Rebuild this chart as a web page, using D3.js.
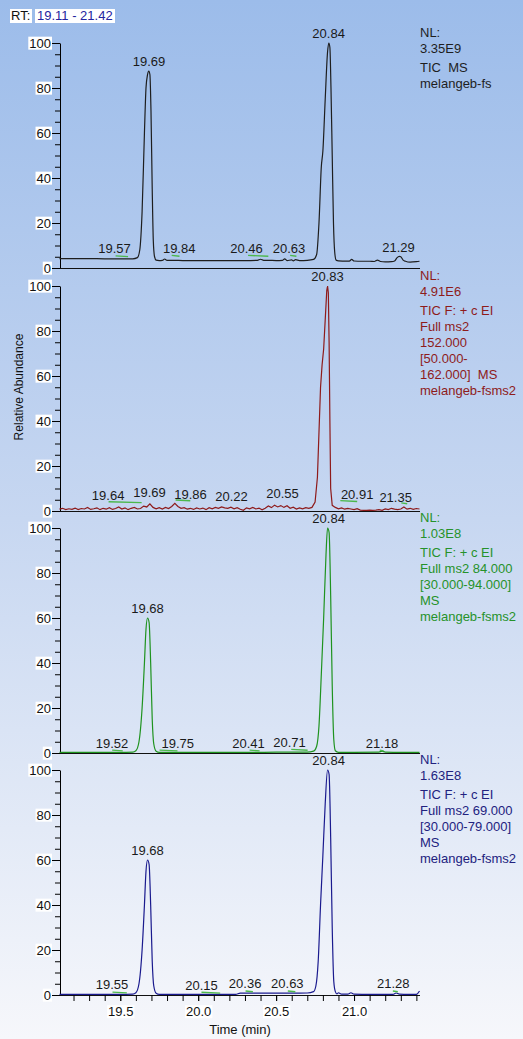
<!DOCTYPE html>
<html>
<head>
<meta charset="utf-8">
<script src="https://cdn.jsdelivr.net/npm/d3@7"></script>
<style>
  body { margin: 0; padding: 0; overflow: hidden; }
  svg { display: block; font-family: "Liberation Sans", Arial, sans-serif; }
</style>
</head>
<body>
<div id="chart"></div>
<script>
/********************************************************
 ********************* Data *****************************
 ********************************************************/
var rtRange = [19.11, 21.42];
var yTickLabels = [0, 20, 40, 60, 80, 100];
var xTickLabels = [19.5, 20.0, 20.5, 21.0];
var xMinorTicks = [19.2, 19.3, 19.4, 19.5, 19.6, 19.7, 19.8, 19.9, 20.0, 20.1, 20.2, 20.3,
                   20.4, 20.5, 20.6, 20.7, 20.8, 20.9, 21.0, 21.1, 21.2, 21.3, 21.4];

// panel 1 - TIC MS
var tic1Time = [19.11, 19.20, 19.30, 19.40, 19.50, 19.58, 19.61, 19.625, 19.64, 19.655, 19.665, 19.675,
  19.683, 19.69, 19.697, 19.705, 19.712, 19.72, 19.73, 19.75, 19.77, 19.785, 19.80, 19.85, 19.90,
  20.00, 20.10, 20.20, 20.30, 20.38, 20.40, 20.42, 20.45, 20.50, 20.54, 20.555, 20.57, 20.60, 20.61,
  20.625, 20.65, 20.70, 20.74, 20.76, 20.775, 20.79, 20.80, 20.815, 20.83, 20.838, 20.845, 20.852,
  20.86, 20.868, 20.876, 20.885, 20.90, 20.95, 20.97, 20.985, 21.00, 21.05, 21.10, 21.13, 21.15,
  21.17, 21.20, 21.24, 21.26, 21.275, 21.29, 21.30, 21.315, 21.33, 21.36, 21.40, 21.42];
var tic1Abund = [4.2, 4.2, 4.2, 4.1, 4.1, 4.1, 4.6, 8, 25, 60, 80, 86,
  87.5, 86, 70, 35, 12, 5, 3.5, 3.3, 3.4, 4.0, 3.4, 3.4, 3.3,
  3.3, 3.3, 3.3, 3.3, 3.4, 3.9, 3.4, 3.4, 3.3, 3.4, 4.1, 3.3, 3.6, 3.2,
  3.7, 3.3, 3.4, 3.8, 6, 20, 45, 52, 75, 96, 100, 98, 80,
  50, 20, 7, 3.5, 3.2, 3.1, 3.1, 3.8, 3.1, 3.0, 3.0, 2.9, 3.5,
  2.9, 2.7, 2.8, 3.1, 4.5, 5.2, 5.0, 3.5, 3.0, 2.6, 2.8, 3.0];
var tic1LabelText = ["19.69", "20.84", "19.57", "19.84", "20.46", "20.63", "21.29"];
var tic1LabelTime = [19.684, 20.837, 19.463, 19.878, 20.31, 20.583, 21.285];
var tic1LabelLevel = [87.5, 100, 4.5, 4.5, 4.5, 4.5, 5.0];
var tic1MarkStart = [19.47, 19.83, 20.32, 20.59];
var tic1MarkEnd = [19.55, 19.88, 20.45, 20.63];
var tic1MarkLevel = [5.4, 5.6, 5.6, 5.6];
var tic1Header = ["NL:", "3.35E9", "TIC  MS", "melangeb-fs"];

// panel 2 - TIC F: + c EI Full ms2 152.000
var tic2Time = [19.11, 19.13, 19.15, 19.17, 19.19, 19.21, 19.23, 19.25, 19.27, 19.29, 19.31, 19.33,
  19.35, 19.37, 19.39, 19.41, 19.43, 19.45, 19.47, 19.49, 19.51, 19.53, 19.55, 19.57, 19.59, 19.61,
  19.63, 19.65, 19.67, 19.69, 19.71, 19.73, 19.75, 19.77, 19.79, 19.81, 19.83, 19.85, 19.87, 19.89,
  19.91, 19.93, 19.95, 19.97, 19.99, 20.01, 20.03, 20.05, 20.07, 20.09, 20.11, 20.13, 20.15, 20.17,
  20.19, 20.21, 20.23, 20.25, 20.27, 20.29, 20.31, 20.33, 20.35, 20.37, 20.39, 20.41, 20.43, 20.45,
  20.47, 20.49, 20.51, 20.53, 20.55, 20.57, 20.59, 20.61, 20.63, 20.65, 20.67, 20.69, 20.71, 20.73,
  20.75, 20.765, 20.775, 20.785, 20.795, 20.805, 20.815, 20.825, 20.83, 20.835, 20.84, 20.845, 20.85,
  20.86, 20.88, 20.90, 20.92, 20.94, 20.96, 20.98, 21.00, 21.02, 21.04, 21.06, 21.08, 21.10, 21.12,
  21.14, 21.16, 21.18, 21.20, 21.22, 21.24, 21.26, 21.28, 21.30, 21.32, 21.34, 21.36, 21.38, 21.40, 21.42];
var tic2Abund = [0.8, 1.2, 0.6, 1.0, 0.7, 1.3, 0.6, 1.1, 0.9, 1.6, 0.7, 1.0,
  1.4, 0.6, 1.2, 0.8, 1.5, 0.7, 1.1, 1.8, 0.9, 1.4, 0.6, 1.2, 1.6, 0.9,
  1.1, 2.2, 1.8, 3.2, 1.6, 1.0, 1.5, 0.9, 1.6, 1.1, 2.0, 3.4, 2.0, 1.2,
  1.5, 0.8, 1.2, 0.7, 1.4, 0.9, 1.3, 0.6, 1.5, 1.0, 1.6, 1.2, 1.8, 1.4,
  1.2, 1.7, 1.0, 1.5, 0.8, 0.3, 1.4, 1.0, 1.6, 0.9, 1.3, 0.5, 1.2, 2.2,
  1.5, 2.6, 1.8, 2.4, 1.6, 2.3, 1.2, 1.7, 0.9, 1.4, 1.0, 1.5, 1.2, 1.6,
  4, 15, 35, 55, 65, 72, 85, 98, 100, 97, 75, 40, 10,
  2.5, 1.6, 1.0, 1.4, 0.8, 1.2, 0.9, 0.6, 1.0, 0.4, 0.3, 0.3, 0.4, 0.3,
  0.4, 0.6, 0.3, 0.9, 0.6, 1.2, 0.8, 0.6, 0.9, 1.8, 0.8, 1.2, 0.7, 1.1, 0.9];
var tic2LabelText = ["20.83", "19.64", "19.69", "19.86", "20.22", "20.55", "20.91", "21.35"];
var tic2LabelTime = [20.83, 19.422, 19.688, 19.951, 20.214, 20.541, 21.02, 21.267];
var tic2LabelLevel = [100, 2.7, 3.9, 3.1, 2.1, 3.4, 3.1, 1.9];
var tic2MarkStart = [19.425, 19.855, 20.912, 21.303];
var tic2MarkEnd = [19.637, 19.949, 21.02, 21.341];
var tic2MarkLevel = [4.1, 4.9, 4.6, 3.6];
var tic2Header = ["NL:", "4.91E6", "TIC F: + c EI", "Full ms2", "152.000", "[50.000-",
  "162.000]  MS", "melangeb-fsms2"];

// panel 3 - TIC F: + c EI Full ms2 84.000
var tic3Time = [19.11, 19.30, 19.50, 19.58, 19.60, 19.62, 19.64, 19.655, 19.665, 19.675, 19.685,
  19.695, 19.705, 19.715, 19.73, 19.75, 19.80, 19.90, 20.00, 20.20, 20.40, 20.60, 20.70, 20.74,
  20.76, 20.775, 20.79, 20.805, 20.82, 20.83, 20.84, 20.85, 20.86, 20.87, 20.88, 20.90, 21.00,
  21.16, 21.18, 21.20, 21.30, 21.42];
var tic3Abund = [0.3, 0.3, 0.3, 0.4, 1, 5, 20, 40, 55, 60, 58,
  40, 15, 4, 0.8, 0.3, 0.3, 0.3, 0.3, 0.3, 0.3, 0.4, 0.4, 0.8,
  3, 12, 35, 60, 88, 100, 98, 70, 30, 6, 1, 0.3, 0.3,
  0.4, 0.8, 0.4, 0.3, 0.3];
var tic3LabelText = ["19.68", "20.84", "19.52", "19.75", "20.41", "20.71", "21.18"];
var tic3LabelTime = [19.675, 20.837, 19.447, 19.869, 20.323, 20.586, 21.18];
var tic3LabelLevel = [60, 100, 0, 0, 0, 0.6, 0];
var tic3MarkStart = [19.448, 19.752, 20.33, 20.597, 21.165];
var tic3MarkEnd = [19.516, 19.867, 20.394, 20.702, 21.19];
var tic3MarkLevel = [1.3, 1.3, 1.3, 1.6, 1.3];
var tic3Header = ["NL:", "1.03E8", "TIC F: + c EI", "Full ms2 84.000", "[30.000-94.000]",
  "MS", "melangeb-fsms2"];

// panel 4 - TIC F: + c EI Full ms2 69.000
var tic4Time = [19.11, 19.30, 19.50, 19.58, 19.60, 19.62, 19.64, 19.655, 19.665, 19.675, 19.685,
  19.695, 19.705, 19.715, 19.73, 19.75, 19.90, 20.10, 20.24, 20.27, 20.40, 20.60, 20.70, 20.74,
  20.755, 20.77, 20.785, 20.80, 20.815, 20.83, 20.84, 20.85, 20.86, 20.87, 20.88, 20.89, 20.90,
  20.92, 20.96, 20.98, 21.00, 21.10, 21.25, 21.27, 21.29, 21.35, 21.40, 21.42];
var tic4Abund = [0.3, 0.3, 0.3, 0.4, 1, 5, 20, 40, 55, 60, 58,
  40, 15, 4, 0.8, 0.3, 0.3, 0.3, 0.3, 0.8, 0.8, 0.8, 0.9, 1.5,
  4, 15, 40, 62, 85, 100, 98, 70, 30, 6, 1.5, 0.5, 1.0,
  0.4, 0.4, 1.0, 0.4, 0.3, 0.3, 0.9, 0.4, 0.3, 0.3, 1.8];
var tic4LabelText = ["19.68", "20.84", "19.55", "20.15", "20.36", "20.63", "21.28"];
var tic4LabelTime = [19.675, 20.837, 19.447, 20.021, 20.301, 20.572, 21.252];
var tic4LabelLevel = [60, 100, 0.3, 0, 1.0, 0.9, 0.9];
var tic4MarkStart = [19.45, 20.021, 20.304, 20.575, 21.249];
var tic4MarkEnd = [19.542, 20.141, 20.351, 20.623, 21.281];
var tic4MarkLevel = [1.3, 1.2, 1.8, 1.8, 1.8];
var tic4Header = ["NL:", "1.63E8", "TIC F: + c EI", "Full ms2 69.000", "[30.000-79.000]",
  "MS", "melangeb-fsms2"];

/********************************************************
 ********************* Layout ***************************
 ********************************************************/
var W = 523, H = 1039;
var panelTops = [43, 286, 528, 770];
var panelH = 225;
var headerOffsets = [0, 16, 35, 51, 67, 83, 99, 115];

var panels = [
  { time: tic1Time, abund: tic1Abund, ltext: tic1LabelText, ltime: tic1LabelTime, llevel: tic1LabelLevel,
    m0: tic1MarkStart, m1: tic1MarkEnd, mlevel: tic1MarkLevel, header: tic1Header,
    color: "#1e1e1e", textColor: "#1e1e1e", curve: d3.curveMonotoneX },
  { time: tic2Time, abund: tic2Abund, ltext: tic2LabelText, ltime: tic2LabelTime, llevel: tic2LabelLevel,
    m0: tic2MarkStart, m1: tic2MarkEnd, mlevel: tic2MarkLevel, header: tic2Header,
    color: "#8e1a1a", textColor: "#8e1b1b", curve: d3.curveLinear },
  { time: tic3Time, abund: tic3Abund, ltext: tic3LabelText, ltime: tic3LabelTime, llevel: tic3LabelLevel,
    m0: tic3MarkStart, m1: tic3MarkEnd, mlevel: tic3MarkLevel, header: tic3Header,
    color: "#1f931f", textColor: "#26922a", curve: d3.curveMonotoneX },
  { time: tic4Time, abund: tic4Abund, ltext: tic4LabelText, ltime: tic4LabelTime, llevel: tic4LabelLevel,
    m0: tic4MarkStart, m1: tic4MarkEnd, mlevel: tic4MarkLevel, header: tic4Header,
    color: "#1a1a8e", textColor: "#22227f", curve: d3.curveMonotoneX }
];

var svg = d3.select("#chart").append("svg")
    .attr("width", W)
    .attr("height", H);

// background gradient
var grad = svg.append("defs").append("linearGradient")
    .attr("id", "bg")
    .attr("x1", 0).attr("y1", 0).attr("x2", 0).attr("y2", 1);
grad.append("stop").attr("offset", "0%").attr("stop-color", "#9cbcea");
grad.append("stop").attr("offset", "50%").attr("stop-color", "#c7d7f1");
grad.append("stop").attr("offset", "100%").attr("stop-color", "#f6f7fb");

svg.append("rect")
    .attr("width", W)
    .attr("height", H)
    .attr("fill", "url(#bg)");

var x = d3.scaleLinear().domain(rtRange).range([59.5, 419.5]);

// put a white box behind axis texts
function whiteBoxes(sel) {
  sel.each(function() {
    var b = this.getBBox();
    d3.select(this.parentNode).insert("rect", "text")
      .attr("x", b.x - 1).attr("y", b.y + 1)
      .attr("width", b.width + 2).attr("height", b.height - 2)
      .attr("fill", "#fff");
  });
}

/********************************************************
 ********************* Panels ***************************
 ********************************************************/
panels.forEach(function(p, i) {
  var top = panelTops[i];
  var y = d3.scaleLinear().domain([0, 100]).range([top + panelH, top]);
  var g = svg.append("g");

  // minor y ticks
  g.append("g")
      .attr("transform", "translate(60,0)")
      .call(d3.axisLeft(y).tickValues(d3.range(0, 101, 5)).tickSize(5).tickSizeOuter(0).tickFormat(""))
      .call(function(a) { a.select(".domain").remove(); });

  // major y ticks + labels
  var ya = g.append("g")
      .attr("class", "axis axis--y")
      .attr("transform", "translate(60,0)")
      .call(d3.axisLeft(y).tickValues(yTickLabels).tickSize(8).tickPadding(1).tickSizeOuter(0));
  ya.selectAll("text").attr("font-size", 13).attr("font-family", "Liberation Sans, Arial").attr("fill", "#111");
  whiteBoxes(ya.selectAll("text"));

  // baseline
  g.append("line")
      .attr("x1", 60).attr("x2", 420)
      .attr("y1", y(0) + 0.5).attr("y2", y(0) + 0.5)
      .attr("stroke", "#111");

  // trace
  var pts = p.time.map(function(t, k) { return [t, p.abund[k]]; });
  var line = d3.line()
      .x(function(d) { return x(d[0]); })
      .y(function(d) { return y(d[1]); })
      .curve(p.curve);
  g.append("path")
      .datum(pts)
      .attr("fill", "none")
      .attr("stroke", p.color)
      .attr("stroke-width", 1.2)
      .attr("d", line);

  // green peak marks
  p.m0.forEach(function(t0, k) {
    g.append("line")
        .attr("x1", x(t0)).attr("x2", x(p.m1[k]))
        .attr("y1", y(p.mlevel[k])).attr("y2", y(p.mlevel[k]) + 0.8)
        .attr("stroke", "#4cb84c")
        .attr("stroke-width", 1.4);
  });

  // peak labels
  p.ltext.forEach(function(s, k) {
    g.append("text")
        .attr("x", x(p.ltime[k]))
        .attr("y", y(p.llevel[k]) - 5)
        .attr("text-anchor", "middle")
        .attr("font-size", 13)
        .attr("fill", "#1a1a1a")
        .text(s);
  });

  // header text on the right
  g.selectAll(".hdr")
      .data(p.header)
    .enter().append("text")
      .attr("x", 420)
      .attr("y", function(d, k) { return top - 6.5 + headerOffsets[k]; })
      .attr("font-size", 13)
      .attr("fill", p.textColor)
      .style("white-space", "pre")
      .text(function(d) { return d; });
});

/********************************************************
 ********************* X axis ***************************
 ********************************************************/
var axisY = panelTops[3] + panelH;
svg.append("g")
    .attr("transform", "translate(0," + axisY + ")")
    .call(d3.axisBottom(x).tickValues(xMinorTicks).tickSize(6).tickSizeOuter(0).tickFormat(""))
    .call(function(a) { a.select(".domain").remove(); });

var xa = svg.append("g")
    .attr("transform", "translate(0," + axisY + ")")
    .call(d3.axisBottom(x).tickValues(xTickLabels).tickSize(6).tickPadding(6).tickSizeOuter(0)
      .tickFormat(d3.format(".1f")));
xa.select(".domain").remove();
xa.selectAll("text").attr("font-size", 13).attr("font-family", "Liberation Sans, Arial").attr("fill", "#111");
whiteBoxes(xa.selectAll("text"));

svg.append("text")
    .attr("x", 240).attr("y", 1034)
    .attr("text-anchor", "middle")
    .attr("font-size", 13)
    .attr("fill", "#111")
    .text("Time (min)");

svg.append("text")
    .attr("transform", "translate(23,387) rotate(-90)")
    .attr("text-anchor", "middle")
    .attr("font-size", 12)
    .attr("fill", "#111")
    .text("Relative Abundance");

/********************************************************
 ********************* RT range *************************
 ********************************************************/
var rt = svg.append("g");
rt.append("rect").attr("x", 10).attr("y", 9).attr("width", 22).attr("height", 14).attr("fill", "#fff");
rt.append("rect").attr("x", 35).attr("y", 9).attr("width", 80).attr("height", 14).attr("fill", "#fff");
rt.append("text").attr("x", 11).attr("y", 20).attr("font-size", 13).attr("fill", "#111").text("RT:");
rt.append("text").attr("x", 37).attr("y", 20).attr("font-size", 13).attr("fill", "#2424a0")
    .text(rtRange[0].toFixed(2) + " - " + rtRange[1].toFixed(2));
</script>
</body>
</html>
